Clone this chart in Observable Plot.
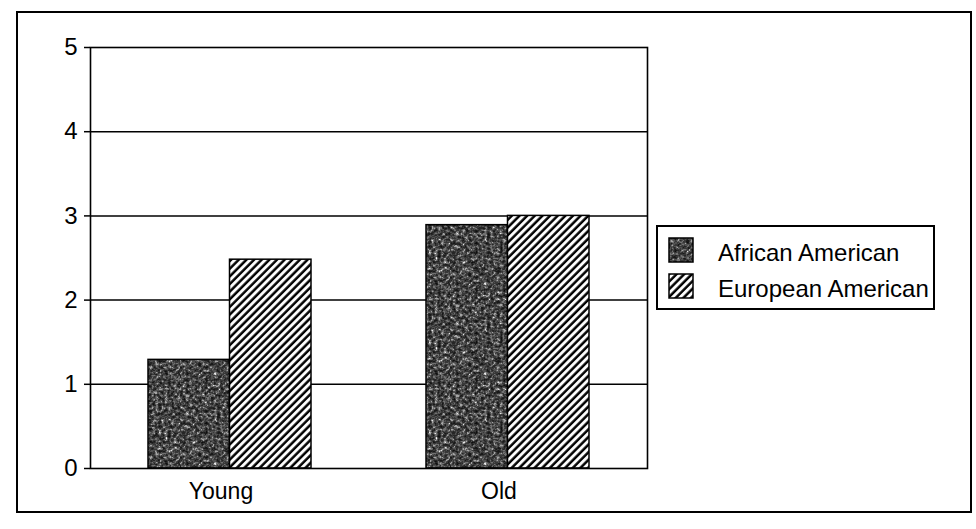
<!DOCTYPE html>
<html><head><meta charset="utf-8">
<script src="https://cdn.jsdelivr.net/npm/d3@7"></script>
<script src="https://cdn.jsdelivr.net/npm/@observablehq/plot@0.6"></script>
<style>
body{margin:0;background:#fff;font-family:"Liberation Sans",Arial,sans-serif;color:#000}
#wrap{position:relative;width:976px;height:529px;overflow:hidden}
#outer{position:absolute;left:16px;top:11px;width:952px;height:498px;border:2px solid #000}
#chart{position:absolute;left:0;top:0}
#legend{position:absolute;left:656px;top:225px;width:275px;height:81px;border:2px solid #000;background:#fff}
.item{position:absolute;left:10px;height:26px;display:flex;align-items:center;white-space:nowrap}
.item svg{display:block}
.item span{position:absolute;left:50px;font-size:24px;line-height:26px;top:3px}
</style></head>
<body>
<svg width="0" height="0" style="position:absolute">
 <defs>
  <filter id="noiseF" x="0" y="0" width="1" height="1" color-interpolation-filters="sRGB">
   <feTurbulence type="fractalNoise" baseFrequency="0.32" numOctaves="3" seed="11" result="t"/>
   <feColorMatrix in="t" type="matrix" values="1 0 0 0 0  1 0 0 0 0  1 0 0 0 0  0 0 0 0 1" result="g"/>
   <feComponentTransfer in="g">
    <feFuncR type="discrete" tableValues="0.03 0.06 0.1 0.15 0.22 0.32 0.45 0.65 0.9 1"/>
    <feFuncG type="discrete" tableValues="0.03 0.06 0.1 0.15 0.22 0.32 0.45 0.65 0.9 1"/>
    <feFuncB type="discrete" tableValues="0.03 0.06 0.1 0.15 0.22 0.32 0.45 0.65 0.9 1"/>
   </feComponentTransfer>
  </filter>
  <pattern id="aaTex" patternUnits="userSpaceOnUse" width="90" height="90">
   <rect width="90" height="90" fill="#444" filter="url(#noiseF)"/>
  </pattern>
  <pattern id="hatch" patternUnits="userSpaceOnUse" width="5.4" height="5.4" patternTransform="rotate(45)">
   <rect width="5.4" height="5.4" fill="#fff"/>
   <line x1="1.5" y1="0" x2="1.5" y2="5.4" stroke="#000" stroke-width="2.5"/>
  </pattern>
 </defs>
</svg>
<div id="wrap">
 <div id="outer"></div>
 <div id="chart"></div>
 <div id="legend"></div>
</div>
<script>
// ---- data ----
const groups = ["Young", "Old"];
const seriesNames = ["African American", "European American"];
const africanAmerican = [1.29, 2.89];
const europeanAmerican = [2.48, 3.0];
const yTicks = [0, 1, 2, 3, 4, 5];
const gridValues = [1, 2, 3, 4];

const aaRows = groups.map((g, i) => ({group: g, series: seriesNames[0], value: africanAmerican[i]}));
const eaRows = groups.map((g, i) => ({group: g, series: seriesNames[1], value: europeanAmerican[i]}));
const fills = {"African American": "url(#aaTex)", "European American": "url(#hatch)"};

const half = 81.5; // half of the group band width

const chart = Plot.plot({
  width: 976,
  height: 529,
  marginLeft: 90,
  marginRight: 329,
  marginTop: 47,
  marginBottom: 61,
  style: {background: "transparent", fontFamily: "'Liberation Sans', Arial, sans-serif", color: "#000", overflow: "visible"},
  x: {domain: groups, paddingInner: 0.4137, paddingOuter: 0.2086, label: null},
  y: {domain: [0, 5], label: null},
  marks: [
    Plot.ruleY(gridValues, {stroke: "#000", strokeWidth: 1.5}),
    Plot.barY(aaRows, {x: "group", y: "value", fill: d => fills[d.series], stroke: "#000", strokeWidth: 1.5, insetRight: half}),
    Plot.barY(eaRows, {x: "group", y: "value", fill: d => fills[d.series], stroke: "#000", strokeWidth: 1.5, insetLeft: half}),
    Plot.frame({stroke: "#000", strokeWidth: 1.6}),
    Plot.axisY({ticks: yTicks, tickFormat: d3.format("d"), tickSize: 6, tickPadding: 7, fontSize: 24, label: null, stroke: "#000", strokeWidth: 1.5}),
    Plot.axisX({tickSize: 0, tickPadding: 14, dx: -9, fontSize: 23, label: null})
  ]
});
document.getElementById("chart").appendChild(chart);

// ---- legend ----
const legend = document.getElementById("legend");
seriesNames.forEach((name, i) => {
  const item = document.createElement("div");
  item.className = "item";
  item.style.top = (10 + i * 36) + "px";
  item.innerHTML = `<svg width="26" height="26"><rect x="1" y="1" width="24" height="24" fill="${fills[name]}" stroke="#000" stroke-width="1.5"/></svg><span>${name}</span>`;
  legend.appendChild(item);
});
</script>
</body></html>
